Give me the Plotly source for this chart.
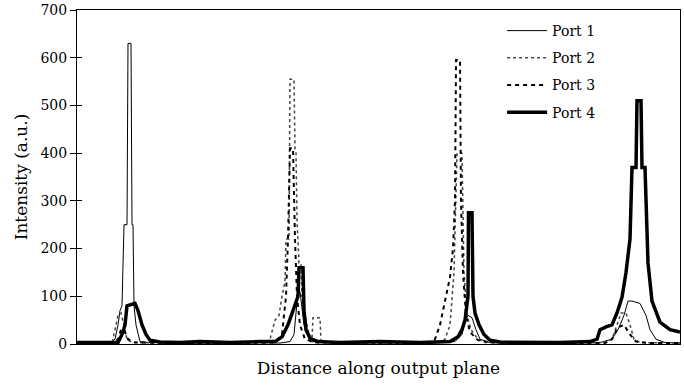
import plotly.graph_objects as go

# Distance along output plane (arbitrary units) and intensities (a.u.)
port1_x = [77, 100, 110, 115, 118, 120, 122, 124, 127, 128, 131, 132, 133, 134, 136, 140, 150, 200, 250, 280,
           290, 294, 296, 298, 300, 304, 310, 350, 400, 440, 455, 462, 465, 468, 472, 476, 480, 490, 540, 600,
           612, 618, 624, 628, 632, 640, 646, 650, 656, 665, 680]
port1_y = [2, 3, 3, 10, 40, 70, 80, 250, 250, 630, 630, 250, 250, 80, 40, 5, 3, 2, 3, 2,
           5, 20, 60, 110, 110, 40, 5, 2, 3, 3, 5, 20, 50, 60, 55, 30, 10, 3, 2, 3,
           10, 30, 60, 90, 90, 85, 60, 30, 10, 3, 2]

port2_x = [77, 112, 115, 118, 121, 124, 127, 132, 200, 265, 270, 275, 279, 282, 285, 286, 289, 290, 294, 295,
           296, 297, 299, 301, 302, 305, 309, 312, 313, 320, 321, 330, 400, 440, 445, 450, 454, 457, 462, 464,
           467, 471, 478, 485, 550, 605, 612, 617, 621, 626, 630, 634, 640, 680]
port2_y = [2, 2, 30, 60, 65, 40, 10, 3, 2, 3, 10, 50, 60, 100, 130, 220, 220, 555, 555, 410,
           400, 260, 170, 170, 100, 60, 20, 10, 55, 55, 5, 3, 2, 3, 10, 40, 150, 400, 400, 150,
           60, 30, 10, 3, 2, 3, 10, 40, 65, 65, 40, 10, 3, 2]

port3_x = [77, 112, 118, 121, 124, 128, 135, 200, 275, 282, 286, 288, 290, 293, 295, 297, 300, 305, 315, 380,
           430, 435, 440, 445, 450, 453, 455, 456, 460, 461, 463, 466, 470, 478, 490, 550, 605, 612, 618, 624,
           630, 636, 650, 680]
port3_y = [2, 2, 10, 30, 30, 10, 3, 2, 3, 20, 100, 220, 410, 410, 220, 100, 40, 10, 3, 2,
           2, 10, 40, 90, 140, 200, 300, 595, 595, 300, 150, 60, 25, 8, 3, 2, 2, 10, 35, 40,
           20, 5, 2, 2]

port4_x = [77, 100, 118, 122, 125, 127, 135, 138, 142, 146, 150, 160, 180, 200, 230, 260, 275, 282, 288, 293,
           298, 299, 303, 304, 306, 310, 318, 340, 380, 420, 450, 458, 462, 465, 468, 468.5, 472, 473, 475, 479,
           484, 490, 500, 560, 590, 597, 600, 606, 612, 617, 622, 626, 630, 632, 636, 637, 641, 642, 645, 648,
           652, 660, 670, 680]
port4_y = [3, 3, 3, 20, 40, 80, 85, 70, 40, 20, 8, 4, 3, 5, 3, 5, 5, 15, 40, 70,
           100, 160, 160, 70, 30, 12, 5, 3, 5, 3, 5, 15, 30, 50, 100, 275, 275, 100, 65, 40,
           20, 8, 4, 3, 5, 10, 30, 36, 40, 65, 98, 150, 220, 370, 370, 510, 510, 370, 370, 170,
           90, 46, 30, 25]

y_ticks = [0, 100, 200, 300, 400, 500, 600, 700]

serif = "DejaVu Serif"

fig = go.Figure()
fig.add_trace(go.Scatter(x=port1_x, y=port1_y, mode="lines", name="Port 1", legendgroup="p1",
                         line=dict(color="black", width=1)))
fig.add_trace(go.Scatter(x=port2_x, y=port2_y, mode="lines", name="Port 2", legendgroup="p2",
                         line=dict(color="#444444", width=1.5, dash="dot")))
fig.add_trace(go.Scatter(x=port3_x, y=port3_y, mode="lines", name="Port 3", legendgroup="p3",
                         line=dict(color="black", width=2, dash="4px,4px")))
fig.add_trace(go.Scatter(x=port4_x, y=port4_y, mode="lines", name="Port 4", legendgroup="p4",
                         line=dict(color="black", width=3.5)))
# empty trace so the overlaying axis (inner tick marks) is drawn
fig.add_trace(go.Scatter(x=[None], y=[None], yaxis="y2", mode="lines", showlegend=False, hoverinfo="skip"))

fig.update_layout(
    width=684, height=386,
    margin=dict(l=77, r=4, t=10, b=42),
    paper_bgcolor="white", plot_bgcolor="white",
    font=dict(family=serif, color="black", size=12),
    showlegend=True,
    legend=dict(x=0.705, y=0.985, xanchor="left", yanchor="top",
                bgcolor="rgba(0,0,0,0)", font=dict(size=14, family=serif),
                itemwidth=40, tracegroupgap=6),
    xaxis=dict(range=[77, 680], showticklabels=False, ticks="", showgrid=False, zeroline=False,
               showline=True, linecolor="black", linewidth=1, mirror=True, automargin=False,
               title=dict(text="Distance along output plane", font=dict(size=17, family=serif), standoff=18)),
    yaxis=dict(range=[0, 700], tickvals=y_ticks, ticks="outside", ticklen=6, tickcolor="black",
               showgrid=False, zeroline=False, showline=True, linecolor="black", linewidth=1, mirror=True,
               automargin=False, tickfont=dict(size=14, family=serif),
               title=dict(text="Intensity (a.u.)", font=dict(size=17, family=serif), standoff=8)),
    yaxis2=dict(range=[0, 700], tickvals=y_ticks, ticks="inside", ticklen=5, tickcolor="black",
                overlaying="y", side="left", showticklabels=False, showgrid=False, zeroline=False,
                showline=False, automargin=False),
)

fig.write_html("out.html", config={"displayModeBar": False},
               post_script="document.body.style.margin='0px';")
